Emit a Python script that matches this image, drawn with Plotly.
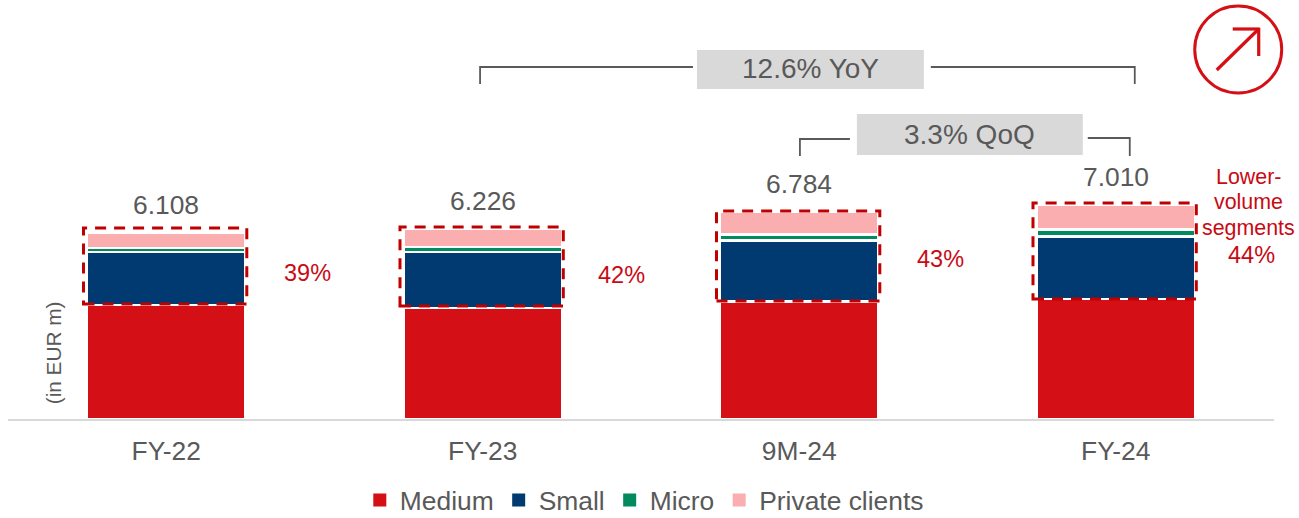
import plotly.graph_objects as go

categories = ["FY-22", "FY-23", "9M-24", "FY-24"]
medium = [3738, 3639, 3852, 3934]
small = [1738, 1836, 2000, 2049]
micro = [131, 164, 197, 230]
private = [501, 587, 735, 797]
totals = [6108, 6226, 6784, 7010]
total_labels = ["6.108", "6.226", "6.784", "7.010"]
share_labels = ["39%", "42%", "43%", "44%"]
box_top_pad = [154, 70, 36, 72]
box_floor_pad = [33, 66, 16, 0]

W, H = 1299, 518
L, R, T, B = 7.7, 24.7, 0, 99
PW, PH = W - L - R, H - T - B
PX_PER_UNIT = 0.0305
GREY = "#595959"
RED_TXT = "#C80A14"
F = "Liberation Sans, Arial, sans-serif"


def px(x):
    return (x - L) / PW


def py(y):
    return 1 - (y - T) / PH


fig = go.Figure()
for name, vals, col in [("Medium", medium, "#D50F16"), ("Small", small, "#003A70"),
                        ("Micro", micro, "#008A5E"), ("Private clients", private, "#FBAEB0")]:
    fig.add_bar(x=categories, y=vals, name=name, width=0.5005, showlegend=False,
                marker=dict(color=col, line=dict(color="white", width=2.5)))
    fig.add_scatter(x=[None], y=[None], mode="markers", name=name,
                    marker=dict(symbol="square", size=13, color=col))

shapes = []
for i in range(4):
    shapes.append(dict(type="rect", xref="x", yref="y", x0=i - 0.2615, x1=i + 0.2545,
                       y0=medium[i] + box_floor_pad[i], y1=totals[i] + box_top_pad[i],
                       line=dict(color="#C00000", width=3, dash="11px,8px")))


def seg(x0, y0, x1, y1, color=GREY, width=1.8):
    shapes.append(dict(type="line", xref="paper", yref="paper", x0=px(x0), y0=py(y0),
                       x1=px(x1), y1=py(y1), line=dict(color=color, width=width)))


def box(x0, y0, x1, y1):
    shapes.append(dict(type="rect", xref="paper", yref="paper", x0=px(x0), y0=py(y0),
                       x1=px(x1), y1=py(y1), fillcolor="#D9D9D9", line=dict(width=0)))


# growth brackets
seg(480, 67, 693, 67); seg(480, 66, 480, 84)
seg(931, 67, 1135, 67); seg(1135, 66, 1135, 84)
seg(800, 139, 850, 139); seg(800, 138, 800, 156)
seg(1088, 138, 1130, 138); seg(1130, 137, 1130, 156)
box(697, 50, 924, 89)
box(857, 114, 1083, 155)

# arrow icon
shapes.append(dict(type="circle", xref="paper", yref="paper", x0=px(1195), x1=px(1282),
                   y0=py(93), y1=py(6), line=dict(color="#D50F16", width=3)))
seg(1217, 70, 1259, 29, "#D50F16", 3.2)
seg(1233, 29, 1260, 29, "#D50F16", 3.2)
seg(1259, 28, 1259, 56, "#D50F16", 3.2)

ann = []
for i in range(4):
    ann.append(dict(x=categories[i], y=totals[i], yref="y", xref="x", text=total_labels[i],
                    showarrow=False, yanchor="middle", yshift=28, font=dict(size=26.4, color=GREY)))


def free(x, y, text, size, color, angle=0):
    ann.append(dict(xref="paper", yref="paper", x=px(x), y=py(y), text=text, showarrow=False,
                    xanchor="center", yanchor="middle", textangle=angle,
                    font=dict(size=size, color=color)))


for (x, y), s in zip([(307, 273), (621, 275), (941, 259), (1252, 255)], share_labels):
    free(x, y, s, 23.5, RED_TXT)
free(1249, 177, "Lower-", 21.4, RED_TXT)
free(1249, 202, "volume", 21.4, RED_TXT)
free(1249, 228, "segments", 21.4, RED_TXT)
free(811, 68, "12.6% YoY", 28, GREY)
free(970, 135, "3.3% QoQ", 28, GREY)
free(53, 353, "(in EUR m)", 20.8, GREY, -90)

fig.update_layout(
    width=W, height=H, barmode="stack", bargap=0.5,
    margin=dict(l=L, r=R, t=T, b=B, autoexpand=False),
    paper_bgcolor="white", plot_bgcolor="white",
    font=dict(family=F, color=GREY, size=26.4),
    shapes=shapes, annotations=ann,
    legend=dict(orientation="h", xref="container", yref="container", x=0.496, xanchor="center",
                y=0.034, yanchor="middle", font=dict(size=26.4, color=GREY), traceorder="normal",
                itemwidth=30, tracegroupgap=0, bgcolor="rgba(0,0,0,0)"),
    xaxis=dict(type="category", range=[-0.5, 3.5], showline=True, linecolor="#D9D9D9", linewidth=2,
               ticks="", showgrid=False, ticklabelstandoff=7, tickfont=dict(size=26.4, color=GREY)),
    yaxis=dict(range=[0, PH / PX_PER_UNIT], visible=False, showgrid=False, zeroline=False),
)
fig.write_html("out.html", config={"displayModeBar": False},
               post_script="document.body.style.margin='0';")
